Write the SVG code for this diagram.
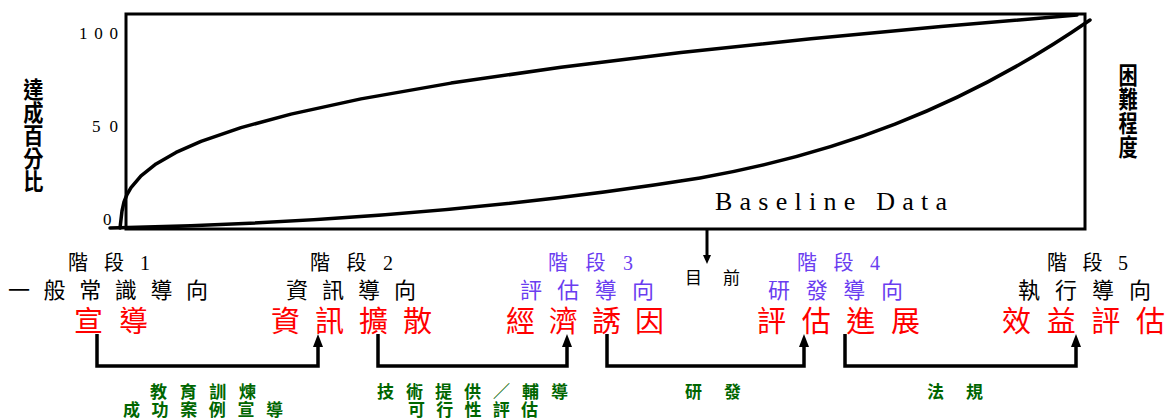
<svg xmlns="http://www.w3.org/2000/svg" width="1168" height="420" viewBox="0 0 1168 420">
<style>
.cjk{font-family:"Liberation Serif","Noto Sans CJK TC","Noto Sans CJK SC",serif;}
.stg{font-size:20px;}
.ori{font-size:22px;}
.key{font-size:29px;fill:#ff0000;}
.blk{fill:#000000;}
.pur{fill:#6a3df0;}
.grn{font-size:17px;font-weight:bold;fill:#006600;}
.vert{font-weight:bold;fill:#000000;writing-mode:vertical-rl;}
.tick{font-family:"Liberation Serif",serif;font-size:17px;fill:#000000;}
.curve{fill:none;stroke:#000000;stroke-width:3.5;stroke-linecap:round;stroke-linejoin:round;}
.conn{fill:none;stroke:#000000;stroke-width:3.5;stroke-linejoin:miter;}
</style>
<defs>
<marker id="arr" viewBox="0 0 13 10" refX="6" refY="5" markerWidth="13" markerHeight="10" markerUnits="userSpaceOnUse" orient="auto">
<path d="M0,0 L13,5 L0,10 Z" fill="#000000"/>
</marker>
<marker id="arrs" viewBox="0 0 9 8" refX="5" refY="4" markerWidth="9" markerHeight="8" markerUnits="userSpaceOnUse" orient="auto">
<path d="M0,0 L9,4 L0,8 Z" fill="#000000"/>
</marker>
</defs>
<rect width="1168" height="420" fill="#ffffff"/>

<g id="chart">
<rect x="126" y="14" width="959" height="215" fill="none" stroke="#000000" stroke-width="3"/>
<path class="curve" d="M110,228 C300,224 500,210 700,178 C830,155 960,110 1090,20"/>
<polyline class="curve" points="120,228 122,211 124,202 127,194.5 131,187.6 141,175.8 156,163.9 176,152.4 201,141.4 241,127.6 291,114.1 361,98.9 451,83.1 561,67.2 681,52.5 811,38.7 941,26.6 1077,15"/>
<text class="tick" x="79" y="39" textLength="39" lengthAdjust="spacing">100</text>
<text class="tick" x="92" y="132" textLength="26" lengthAdjust="spacing">50</text>
<text class="tick" x="103" y="225">0</text>
<text x="715" y="210" font-family="Liberation Serif, serif" font-size="26" fill="#000000" textLength="232" lengthAdjust="spacing">Baseline Data</text>
</g>

<g id="y-label-left" class="cjk" transform="translate(31,78) scale(0.88,1)">
<text class="vert" x="0" y="0" font-size="23">達成百分比</text>
</g>

<g id="y-label-right" class="cjk" transform="translate(1126,63) scale(0.8,1)">
<text class="vert" x="0" y="0" font-size="24">困難程度</text>
</g>

<g id="now-marker">
<line x1="707" y1="230" x2="707" y2="260" stroke="#000000" stroke-width="3" marker-end="url(#arrs)"/>
<text class="cjk blk" x="685" y="284" font-size="17" textLength="55" lengthAdjust="spacing">目前</text>
</g>

<g id="stage1" class="cjk">
<text class="stg blk" x="68" y="270" textLength="82" lengthAdjust="spacing">階段1</text>
<text class="ori blk" x="8" y="298" textLength="200" lengthAdjust="spacing">一般常識導向</text>
<text class="key" x="74" y="332" textLength="74" lengthAdjust="spacing">宣導</text>
</g>

<g id="stage2" class="cjk">
<text class="stg blk" x="310" y="270" textLength="83" lengthAdjust="spacing">階段2</text>
<text class="ori blk" x="286" y="298" textLength="130" lengthAdjust="spacing">資訊導向</text>
<text class="key" x="271" y="332" textLength="161" lengthAdjust="spacing">資訊擴散</text>
</g>

<g id="stage3" class="cjk">
<text class="stg pur" x="548" y="270" textLength="85" lengthAdjust="spacing">階段3</text>
<text class="ori pur" x="520" y="298" textLength="134" lengthAdjust="spacing">評估導向</text>
<text class="key" x="506" y="332" textLength="158" lengthAdjust="spacing">經濟誘因</text>
</g>

<g id="stage4" class="cjk">
<text class="stg pur" x="797" y="270" textLength="83" lengthAdjust="spacing">階段4</text>
<text class="ori pur" x="768" y="298" textLength="135" lengthAdjust="spacing">研發導向</text>
<text class="key" x="757" y="332" textLength="163" lengthAdjust="spacing">評估進展</text>
</g>

<g id="stage5" class="cjk">
<text class="stg blk" x="1047" y="270" textLength="81" lengthAdjust="spacing">階段5</text>
<text class="ori blk" x="1018" y="298" textLength="133" lengthAdjust="spacing">執行導向</text>
<text class="key" x="1002" y="332" textLength="163" lengthAdjust="spacing">效益評估</text>
</g>

<g id="connectors">
<polyline class="conn" points="97,334 97,366 318,366 318,341" marker-end="url(#arr)"/>
<polyline class="conn" points="378,334 378,366 567,366 567,341" marker-end="url(#arr)"/>
<polyline class="conn" points="607,334 607,366 804,366 804,341" marker-end="url(#arr)"/>
<polyline class="conn" points="845,334 845,366 1076,366 1076,341" marker-end="url(#arr)"/>
</g>

<g id="connector-labels" class="cjk grn">
<text x="150" y="398" textLength="106" lengthAdjust="spacing">教育訓煉</text>
<text x="123" y="416" textLength="160" lengthAdjust="spacing">成功案例宣導</text>
<text x="377" y="398" textLength="191" lengthAdjust="spacing">技術提供／輔導</text>
<text x="408" y="416" textLength="130" lengthAdjust="spacing">可行性評估</text>
<text x="685" y="398" textLength="56" lengthAdjust="spacing">研發</text>
<text x="927" y="398" textLength="56" lengthAdjust="spacing">法規</text>
</g>
</svg>
